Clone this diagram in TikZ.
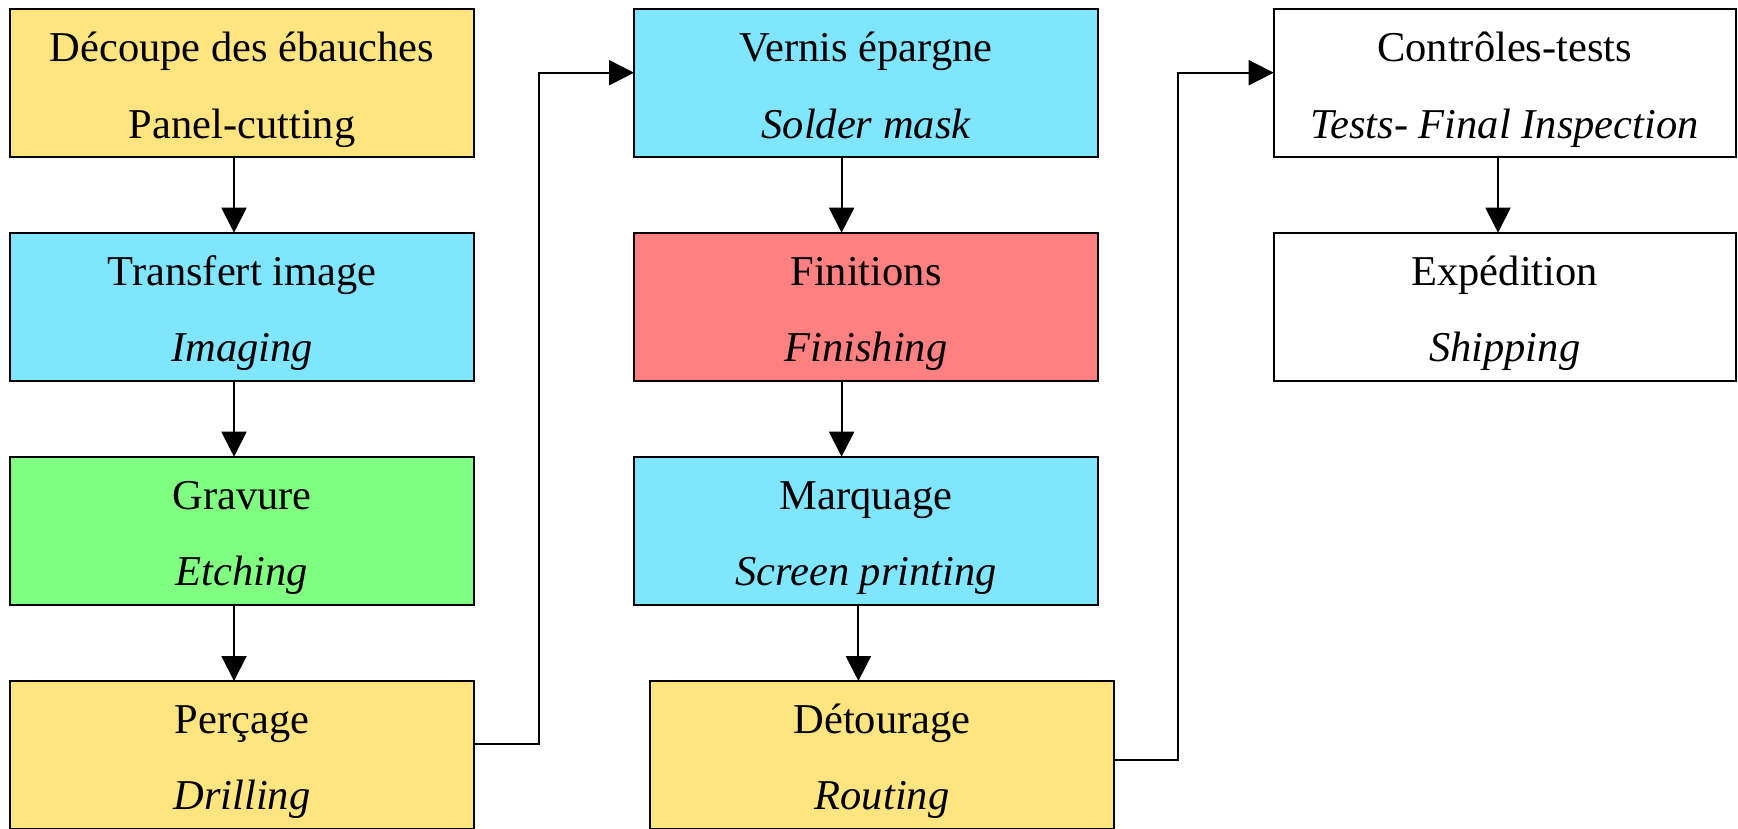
\documentclass[tikz,border=0pt]{standalone}
\usepackage{fontspec}
\setmainfont{Liberation Serif}
\usetikzlibrary{arrows.meta,calc}
\definecolor{stepgold}{RGB}{255,229,128}
\definecolor{stepcyan}{RGB}{128,229,255}
\definecolor{stepgreen}{RGB}{128,255,128}
\definecolor{stepred}{RGB}{255,128,128}

% one process step: box, French title, English title
\newcommand\pcbstep[7][464pt]{%
  \node[stage, minimum width=#1, fill=#5] (#2) at (#3,#4) {};
  \node[steptext] (#2-fr) at ([yshift=-52.4pt]#2.north) {#6};
  \node[steptext] (#2-en) at ([yshift=-128.7pt]#2.north) {#7};}

% straight downward link between two stacked steps
\newcommand\downflow[3]{%
  \coordinate (#1-out) at ([xshift=#3]#1.south west);
  \draw[flow] (#1-out) -- (#1-out |- #2.north);}

\begin{document}
\begin{tikzpicture}[x=1pt,y=-1pt,
  stage/.style={draw=black, line width=2pt, minimum height=148pt,
    inner sep=0pt, outer sep=0pt, anchor=north west},
  steptext/.style={anchor=base, inner sep=0pt,
    font=\fontsize{42.5}{50}\selectfont},
  flow/.style={line width=2pt, -{Triangle[length=25pt,width=25pt]}}]
\useasboundingbox (0,0) rectangle (1738,828);

% column 1
\pcbstep{cut}{10}{9.3}{stepgold}{Découpe des ébauches}{Panel-cutting}
\pcbstep{img}{10}{232.7}{stepcyan}{Transfert image}{\itshape Imaging}
\pcbstep{etch}{10}{456.7}{stepgreen}{Gravure}{\itshape Etching}
\pcbstep{drill}{10}{681}{stepgold}{Perçage}{\itshape Drilling}

% column 2
\pcbstep{solder}{634}{9.3}{stepcyan}{Vernis épargne}{\itshape Solder mask}
\pcbstep{finish}{634}{232.7}{stepred}{Finitions}{\itshape Finishing}
\pcbstep{mark}{634}{456.7}{stepcyan}{Marquage}{\itshape Screen printing}
\pcbstep{route}{650}{681}{stepgold}{Détourage}{\itshape Routing}

% column 3
\pcbstep[462pt]{test}{1273.7}{9.3}{white}{Contrôles-tests}{\itshape Tests- Final Inspection}
\pcbstep[462pt]{ship}{1273.7}{232.7}{white}{Expédition}{\itshape Shipping}

% links inside the columns
\downflow{cut}{img}{224pt}
\downflow{img}{etch}{224pt}
\downflow{etch}{drill}{224pt}
\downflow{solder}{finish}{207.6pt}
\downflow{finish}{mark}{207.6pt}
\downflow{mark}{route}{224.4pt}
\downflow{test}{ship}{224.3pt}

% links from the foot of one column to the head of the next
\coordinate (drill-side) at ([yshift=-63.3pt]drill.north east);
\coordinate (solder-side) at ([yshift=-63.4pt]solder.north west);
\coordinate (bend1) at (538.5,400);
\draw[flow] (drill-side) -- (drill-side -| bend1) -- (bend1 |- solder-side) -- (solder-side);

\coordinate (route-side) at ([yshift=-79.3pt]route.north east);
\coordinate (test-side) at ([yshift=-63.4pt]test.north west);
\coordinate (bend2) at (1178.4,400);
\draw[flow] (route-side) -- (route-side -| bend2) -- (bend2 |- test-side) -- (test-side);
\end{tikzpicture}
\end{document}
